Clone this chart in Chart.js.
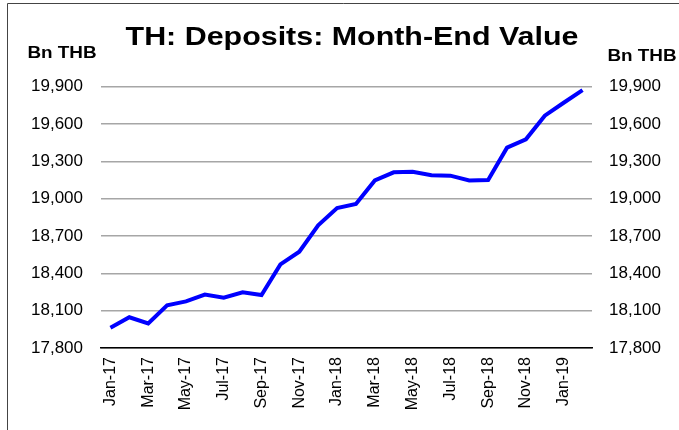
<!DOCTYPE html>
<html>
<head>
<meta charset="utf-8">
<script src="https://cdn.jsdelivr.net/npm/chart.js@4/dist/chart.umd.min.js"></script>
<style>
  html, body { margin: 0; padding: 0; background: #fff; }
  #wrap { width: 679px; height: 430px; position: relative; }
</style>
</head>
<body>
<div id="wrap"><canvas id="c" width="679" height="430"></canvas></div>
<script>
const chartTitle = "TH: Deposits: Month-End Value";
const unitLabel = "Bn THB";
const months = ["Jan-17","Feb-17","Mar-17","Apr-17","May-17","Jun-17","Jul-17","Aug-17","Sep-17","Oct-17","Nov-17","Dec-17",
                "Jan-18","Feb-18","Mar-18","Apr-18","May-18","Jun-18","Jul-18","Aug-18","Sep-18","Oct-18","Nov-18","Dec-18",
                "Jan-19","Feb-19"];
const deposits = [17963,18047,17998,18143,18175,18229,18204,18247,18226,18472,18574,18786,
                  18925,18957,19147,19212,19217,19188,19185,19147,19150,19410,19477,19667,
                  19771,19873];
const yMin = 17800, yMax = 19900, yStep = 300;

const fmt = v => Number(v).toLocaleString('en-US');

const decor = {
  id: 'decor',
  afterDraw(chart) {
    const ctx = chart.ctx;
    ctx.save();
    // outer frame
    ctx.strokeStyle = '#444';
    ctx.lineWidth = 1;
    ctx.beginPath();
    ctx.moveTo(7.5, 430);
    ctx.lineTo(7.5, 3.5);
    ctx.lineTo(679, 3.5);
    ctx.stroke();
    ctx.fillStyle = '#000';
    ctx.textBaseline = 'alphabetic';
    ctx.textAlign = 'center';
    // title (source text is horizontally wide)
    ctx.save();
    ctx.font = 'bold 26px "Liberation Sans", Arial, sans-serif';
    ctx.translate(352, 44.5);
    ctx.scale(1.17, 1);
    ctx.fillText(chartTitle, 0, 0);
    ctx.restore();
    // unit labels
    ctx.save();
    ctx.font = 'bold 16px "Liberation Sans", Arial, sans-serif';
    ctx.translate(62, 58);
    ctx.scale(1.18, 1);
    ctx.fillText(unitLabel, 0, 0);
    ctx.restore();
    ctx.save();
    ctx.font = 'bold 16px "Liberation Sans", Arial, sans-serif';
    ctx.translate(642, 61);
    ctx.scale(1.18, 1);
    ctx.fillText(unitLabel, 0, 0);
    ctx.restore();
    ctx.restore();
  }
};

new Chart(document.getElementById('c'), {
  type: 'line',
  data: {
    labels: months,
    datasets: [{
      label: 'Deposits',
      data: deposits,
      borderColor: '#0000FF',
      backgroundColor: '#0000FF',
      borderWidth: 4,
      pointRadius: 0,
      tension: 0,
      yAxisID: 'y'
    }]
  },
  options: {
    responsive: false,
    animation: false,
    layout: { padding: { top: 86.7, left: 0, right: 0, bottom: 0 } },
    plugins: { legend: { display: false }, tooltip: { enabled: false }, title: { display: false } },
    scales: {
      x: {
        type: 'category',
        offset: true,
        grid: { display: false, drawTicks: false },
        border: { display: true, color: '#000', width: 1.5 },
        ticks: {
          autoSkip: false,
          maxRotation: 90,
          minRotation: 90,
          padding: 9,
          color: '#000',
          font: { family: '"Liberation Sans", Arial, sans-serif', size: 16 },
          callback: function(v, i) { return i % 2 === 0 ? this.getLabelForValue(v) : ''; }
        },
        afterFit(s) { s.height = 82; }
      },
      y: {
        position: 'left',
        min: yMin, max: yMax,
        grid: { color: '#a6a6a6', lineWidth: 1.5, drawTicks: false },
        border: { display: false },
        ticks: {
          stepSize: yStep,
          padding: 18,
          color: '#000',
          font: { family: '"Liberation Sans", Arial, sans-serif', size: 17 },
          callback: v => fmt(v)
        },
        afterFit(s) { s.width = 101; }
      },
      y2: {
        position: 'right',
        min: yMin, max: yMax,
        grid: { display: false, drawTicks: false },
        border: { display: false },
        ticks: {
          stepSize: yStep,
          padding: 17,
          color: '#000',
          font: { family: '"Liberation Sans", Arial, sans-serif', size: 17 },
          callback: v => fmt(v)
        },
        afterFit(s) { s.width = 87; }
      }
    }
  },
  plugins: [decor]
});
</script>
</body>
</html>
